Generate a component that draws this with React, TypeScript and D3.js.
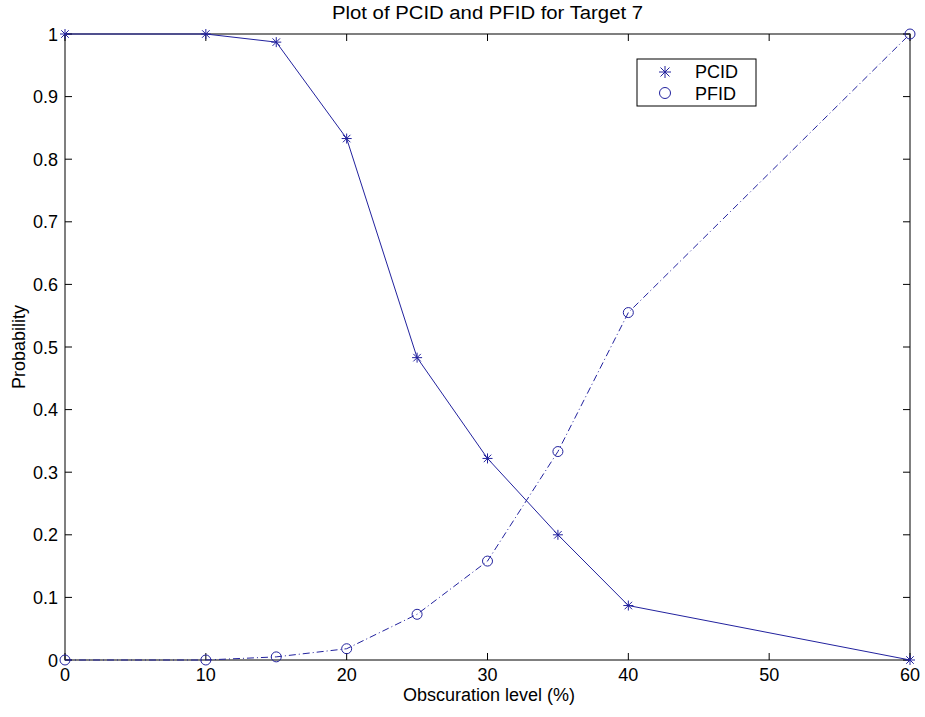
import * as d3 from "d3";
import React from "react";

// obscuration levels (%) and probabilities
const levels = [0, 10, 15, 20, 25, 30, 35, 40, 60];
const pcid = [1, 1, 0.987, 0.833, 0.483, 0.322, 0.2, 0.087, 0];
const pfid = [0, 0, 0.005, 0.018, 0.073, 0.158, 0.333, 0.555, 1];
const xTicks = [0, 10, 20, 30, 40, 50, 60];
const yTicks = [0, 0.1, 0.2, 0.3, 0.4, 0.5, 0.6, 0.7, 0.8, 0.9, 1];
const legendNames = ["PCID", "PFID"];

const W = 925;
const H = 717;
const left = 65, right = 910, top = 34, bottom = 660;
const color = "#22229e";
const font = "Arial, 'Liberation Sans', sans-serif";

// star marker like matlab '*'
const Star = ({ x, y, s = 5 }: { x: number; y: number; s?: number }) => {
  const d = s * 0.75;
  return (
    <path
      d={`M${x - s},${y}L${x + s},${y}M${x},${y - s}L${x},${y + s}M${x - d},${y - d}L${x + d},${y + d}M${x - d},${y + d}L${x + d},${y - d}`}
      stroke={color}
      strokeWidth={1}
      fill="none"
    />
  );
};

const App = () => {
  const x = d3.scaleLinear().domain([0, 60]).range([left, right]);
  const y = d3.scaleLinear().domain([0, 1]).range([bottom, top]);

  const line = d3.line<number>()
    .x((_, i) => x(levels[i]))
    .y(d => y(d));

  return (
    <svg width={W} height={H} style={{ position: "absolute", left: 0, top: 0 }}>
      <rect width={W} height={H} fill="#fff" />
      {/* axes box */}
      <rect x={left} y={top} width={right - left} height={bottom - top} fill="none" stroke="#000" strokeWidth={1} />
      {/* x ticks */}
      {xTicks.map(t => (
        <g key={"x" + t}>
          <line x1={x(t)} x2={x(t)} y1={bottom} y2={bottom - 7} stroke="#000" />
          <line x1={x(t)} x2={x(t)} y1={top} y2={top + 7} stroke="#000" />
          <text x={x(t)} y={bottom + 21} textAnchor="middle" fontFamily={font} fontSize={18}>{t}</text>
        </g>
      ))}
      {/* y ticks */}
      {yTicks.map(t => (
        <g key={"y" + t}>
          <line x1={left} x2={left + 7} y1={y(t)} y2={y(t)} stroke="#000" />
          <line x1={right} x2={right - 7} y1={y(t)} y2={y(t)} stroke="#000" />
          <text x={left - 7} y={y(t) + 6.5} textAnchor="end" fontFamily={font} fontSize={18}>{d3.format("")(+t.toFixed(1))}</text>
        </g>
      ))}
      {/* series */}
      <path d={line(pcid) ?? ""} fill="none" stroke={color} strokeWidth={1} />
      <path d={line(pfid) ?? ""} fill="none" stroke={color} strokeWidth={1} strokeDasharray="7,3,1,3" />
      {pcid.map((v, i) => <Star key={"s" + i} x={x(levels[i])} y={y(v)} />)}
      {pfid.map((v, i) => (
        <circle key={"c" + i} cx={x(levels[i])} cy={y(v)} r={5} fill="none" stroke={color} strokeWidth={1} />
      ))}
      {/* legend */}
      <rect x={637} y={59} width={119} height={47} fill="#fff" stroke="#000" />
      <Star x={665} y={72} s={6} />
      <circle cx={665} cy={93} r={5.5} fill="none" stroke={color} />
      {legendNames.map((n, i) => (
        <text key={n} x={695} y={78 + i * 22} fontFamily={font} fontSize={18}>{n}</text>
      ))}
      {/* titles */}
      <text x={(left + right) / 2} y={19} textAnchor="middle" fontFamily={font} fontSize={18} textLength={311} lengthAdjust="spacingAndGlyphs">Plot of PCID and PFID for Target 7</text>
      <text x={489} y={701} textAnchor="middle" fontFamily={font} fontSize={18}>Obscuration level (%)</text>
      <text transform={`translate(25,${(top + bottom) / 2}) rotate(-90)`} textAnchor="middle" fontFamily={font} fontSize={18}>Probability</text>
    </svg>
  );
};

export default App;
